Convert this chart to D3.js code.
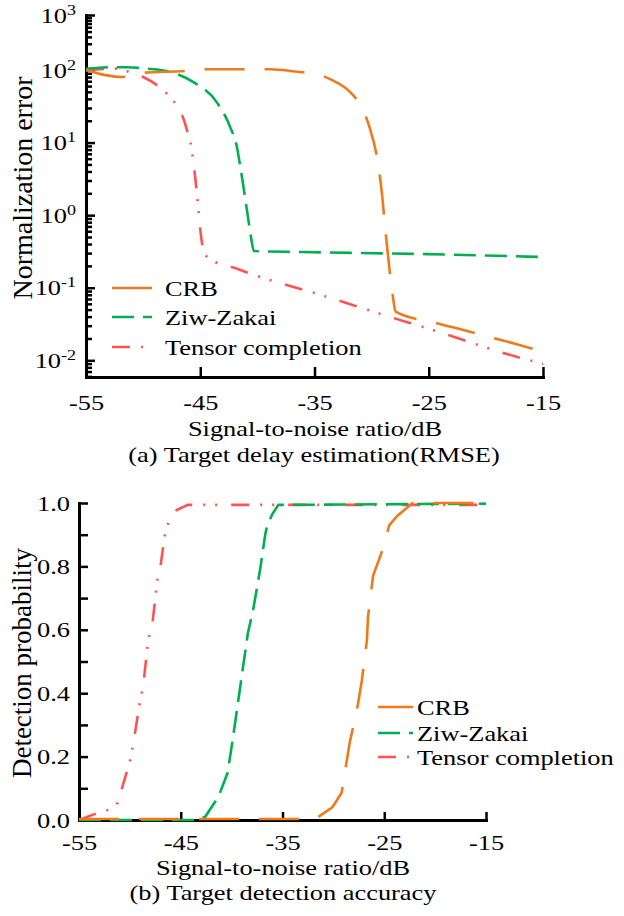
<!DOCTYPE html>
<meta charset="utf-8">
<title>Delay estimation and detection vs SNR</title>
<style>
  body { margin: 0; background: #fff; }
  svg text { font-family: "Liberation Serif", "Times New Roman", serif; font-size: 22px; fill: #000; }
</style>
<body>
<script src="https://cdn.jsdelivr.net/npm/d3@7"></script>
<script>

var snrTicks = [-55, -45, -35, -25, -15];
var seriesNames = ["CRB", "Ziw-Zakai", "Tensor completion"];
var colors = ["#ee7a1a", "#00b050", "#ff5252"];
var dashes = ["40,20", "22,9", "18,11,2,10,2,14"];

// (a) normalized error, pairs of [SNR dB, error]
var crbErr = [[-55,100],[-53.3,85],[-51.8,80],[-50.3,91],[-46.3,97],[-44.4,103],[-40.8,103],[-38.9,103],
  [-36.3,94],[-35.2,91],[-33.5,73],[-31.9,50],[-30.9,31],[-30.2,16.6],[-29.4,4.7],[-29.1,2.0],[-28.8,0.64],
  [-28.6,0.31],[-28.2,0.09],[-27.9,0.047],[-24.5,0.033],[-22.7,0.028],[-19.2,0.020],[-17.3,0.0167],[-15,0.013]];
var zzbErr = [[-55,105],[-53,112],[-51.4,112],[-49.7,106],[-47.6,94],[-45.6,68],[-43.5,35],[-42.4,16.6],
  [-41.8,8.8],[-41.5,4.7],[-40.8,0.89],[-40.6,0.55],[-40.3,0.32],[-36,0.31],[-25,0.29],[-15,0.265]];
var tcErr = [[-55,100],[-52.3,106],[-51.2,94],[-50,80],[-48.8,62],[-47.9,47],[-47.1,33],[-46.5,22],[-46.1,13.7],
  [-45.8,9],[-45.5,4],[-45.2,1.4],[-45.0,0.64],[-44.7,0.32],[-44.2,0.25],[-42.1,0.19],[-40,0.145],[-34.5,0.08],
  [-28.7,0.041],[-24.6,0.026],[-18.8,0.0131],[-15,0.0089]];

// (b) detection probability, pairs of [SNR dB, Pd]
var crbDet = [[-55,0.003],[-31.8,0.003],[-30.1,0.04],[-29.2,0.085],[-28.8,0.164],[-28.4,0.243],[-27.6,0.363],
  [-27.2,0.44],[-26.7,0.568],[-26.6,0.64],[-26.1,0.77],[-25.3,0.84],[-24.5,0.93],[-23.7,0.96],[-22.2,1.0],[-15,1.0]];
var zzbDet = [[-55,0],[-43.4,0],[-42.6,0.01],[-41.3,0.073],[-40.4,0.148],[-39.9,0.252],[-39.2,0.41],[-38.4,0.59],
  [-37.9,0.66],[-37.2,0.79],[-36.7,0.9],[-36.5,0.93],[-36.0,0.965],[-35.4,0.994],[-15,0.998]];
var tcDet = [[-55,0],[-53.2,0.022],[-52.1,0.032],[-51.2,0.054],[-49.9,0.196],[-49.5,0.274],[-49.0,0.375],
  [-48.7,0.42],[-48.2,0.568],[-47.8,0.615],[-47.3,0.757],[-47.0,0.798],[-46.6,0.893],[-46.2,0.94],[-45.4,0.978],
  [-44.3,0.994],[-15,0.994]];

var SX = 1.2; // the original figure's lettering is stretched sideways

var svg = d3.select("body").append("svg")
    .attr("width", 624)
    .attr("height", 916);

function styleAxis(g) {
    g.attr("font-family", null).attr("font-size", null);
    g.select(".domain").attr("stroke-width", 3).attr("stroke-linecap", "square");
    g.selectAll(".tick line").attr("stroke-width", 2.5);
}

// move x/y into a transform so the glyphs can be widened around their anchor
function widen(sel) {
    sel.each(function() {
        var t = d3.select(this);
        var x = +t.attr("x") || 0, y = +t.attr("y") || 0;
        t.attr("x", null).attr("y", null)
            .attr("transform", "translate(" + x + "," + y + ") scale(" + SX + ",1)");
    });
}

function drawSeries(g, x, y, series, curve) {
    var line = d3.line()
        .x(function(d) { return x(d[0]); })
        .y(function(d) { return y(d[1]); })
        .curve(curve);
    // tensor first, crb last (on top)
    [2, 1, 0].forEach(function(i) {
        g.append("path")
            .attr("d", line(series[i]))
            .attr("fill", "none")
            .attr("stroke", colors[i])
            .attr("stroke-width", 2.6)
            .attr("stroke-dasharray", dashes[i]);
    });
}

function drawLegend(g, x0, x1, tx, ys) {
    seriesNames.forEach(function(name, i) {
        g.append("line")
            .attr("x1", x0).attr("x2", x1)
            .attr("y1", ys[i]).attr("y2", ys[i])
            .attr("stroke", colors[i])
            .attr("stroke-width", 2.6)
            .attr("stroke-dasharray", i == 0 ? null : dashes[i]);
        g.append("text")
            .attr("x", tx).attr("y", ys[i])
            .attr("dy", "0.35em")
            .text(name)
            .call(widen);
    });
}

// ---------- (a) target delay estimation ----------
var xa = d3.scaleLinear().domain([-55, -15]).range([86, 543]);
var ya = d3.scaleLog().domain([Math.pow(10, -2.23), 100, 1000]).range([377, 70, 15]);

var decades = [-2, -1, 0, 1, 2, 3];
var minor = [];
for (var e = -3; e <= 2; e++)
    for (var k = 2; k <= 9; k++) {
        var v = k * Math.pow(10, e);
        if (v >= ya.domain()[0] && v <= 1000) minor.push(v);
    }

var ga = svg.append("g");

ga.append("g")
    .attr("transform", "translate(86,0)")
    .call(d3.axisLeft(ya).tickValues(minor).tickSizeInner(-6).tickSizeOuter(0).tickFormat(""))
    .call(styleAxis);
ga.append("g")
    .attr("transform", "translate(86,0)")
    .call(d3.axisLeft(ya).tickValues(decades.map(function(d) { return Math.pow(10, d); }))
        .tickSizeInner(-9).tickSizeOuter(0).tickFormat(""))
    .call(styleAxis);

var ylab = ga.selectAll(".ylab").data(decades).enter().append("text")
    .attr("class", "ylab")
    .attr("x", 76)
    .attr("y", function(d) { return ya(Math.pow(10, d)); })
    .attr("dy", "0.35em")
    .attr("text-anchor", "end");
ylab.append("tspan").text("10");
ylab.append("tspan")
    .attr("dy", -8)
    .style("font-size", "15px")
    .text(function(d) { return d; });
ylab.call(widen);

ga.append("g")
    .attr("transform", "translate(0,377)")
    .call(d3.axisBottom(xa).tickValues(snrTicks).tickSizeInner(-10).tickSizeOuter(0)
        .tickPadding(17).tickFormat(function(d) { return String(d); }))
    .call(styleAxis)
    .selectAll("text").call(widen);

drawSeries(ga, xa, ya, [crbErr, zzbErr, tcErr], d3.curveMonotoneX);
drawLegend(ga, 112, 152, 165, [288, 317, 347]);

ga.append("text")
    .attr("transform", "translate(32,188) rotate(-90)")
    .attr("text-anchor", "middle")
    .style("font-size", "28px")
    .text("Normalization error");
ga.append("text")
    .attr("x", 315).attr("y", 436)
    .attr("text-anchor", "middle")
    .text("Signal-to-noise ratio/dB")
    .call(widen);
ga.append("text")
    .attr("x", 314).attr("y", 462)
    .attr("text-anchor", "middle")
    .text("(a) Target delay estimation(RMSE)")
    .call(widen);

// ---------- (b) target detection accuracy ----------
var xb = d3.scaleLinear().domain([-55, -15]).range([79, 486]);
var yb = d3.scaleLinear().domain([0, 1]).range([820, 503]);

var gb = svg.append("g");

gb.append("g")
    .attr("transform", "translate(79,0)")
    .call(d3.axisLeft(yb).tickValues(d3.range(11).map(function(i) { return i / 10; }))
        .tickSizeInner(-9).tickSizeOuter(0).tickPadding(9)
        .tickFormat(function(d) { return Math.round(d * 10) % 2 == 0 ? d3.format(".1f")(d) : ""; }))
    .call(styleAxis)
    .selectAll("text").call(widen);

gb.append("g")
    .attr("transform", "translate(0,820)")
    .call(d3.axisBottom(xb).tickValues(snrTicks).tickSizeInner(-8).tickSizeOuter(0)
        .tickPadding(14).tickFormat(function(d) { return String(d); }))
    .call(styleAxis)
    .selectAll("text").call(widen);

drawSeries(gb, xb, yb, [crbDet, zzbDet, tcDet], d3.curveLinear);
drawLegend(gb, 378, 413, 417, [707, 733, 757]);

gb.append("text")
    .attr("transform", "translate(31,663) rotate(-90)")
    .attr("text-anchor", "middle")
    .style("font-size", "27px")
    .text("Detection probability");
gb.append("text")
    .attr("x", 283).attr("y", 875)
    .attr("text-anchor", "middle")
    .text("Signal-to-noise ratio/dB")
    .call(widen);
gb.append("text")
    .attr("x", 283).attr("y", 900)
    .attr("text-anchor", "middle")
    .text("(b) Target detection accuracy")
    .call(widen);

</script>
